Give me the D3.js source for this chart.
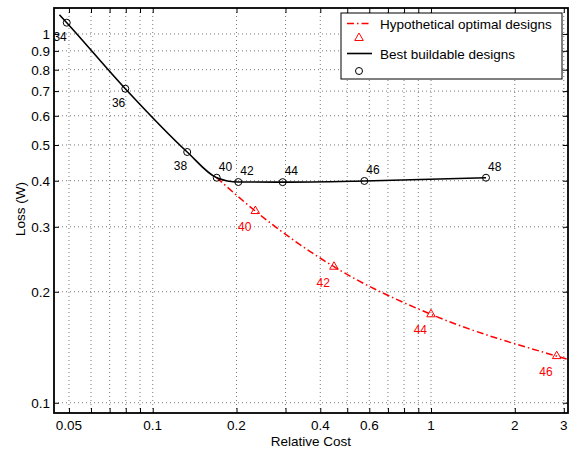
<!DOCTYPE html>
<html>
<head>
<meta charset="utf-8">
<script src="https://cdn.jsdelivr.net/npm/d3@7"></script>
<style>
  body { margin: 0; background: #fff; }
  text { font-family: "Liberation Sans", Arial, Helvetica, sans-serif; }
</style>
</head>
<body>
<script>
// datos
var bestCost   = [0.0491, 0.0797, 0.133, 0.1698, 0.203, 0.293, 0.576, 1.576];
var bestLoss   = [1.073, 0.7105, 0.4786, 0.4076, 0.3968, 0.3965, 0.3994, 0.4076];
var bestLabels = ["34", "36", "38", "40", "42", "44", "46", "48"];
// la curva negra empieza un poco antes del primer circulo
var bestLineCost = [0.0462, 0.0491, 0.0797, 0.133, 0.1698, 0.203, 0.293, 0.576, 1.576];
var bestLineLoss = [1.128, 1.073, 0.7105, 0.4786, 0.4076, 0.3968, 0.3965, 0.3994, 0.4076];

var optCost   = [0.2337, 0.448, 1.0, 2.829];
var optLoss   = [0.331, 0.2338, 0.1737, 0.1338];
var optLabels = ["40", "42", "44", "46"];
// la curva roja sale del punto 40 negro y llega al borde derecho
var optLineCost = [0.1698, 0.2337, 0.448, 1.0, 2.829, 3.106];
var optLineLoss = [0.4076, 0.331, 0.2338, 0.1737, 0.1338, 0.1311];

var xTicks = [0.05, 0.06, 0.07, 0.08, 0.09, 0.1, 0.2, 0.3, 0.4, 0.5, 0.6, 0.7, 0.8, 0.9, 1, 2, 3];
var xTickLabels = [0.05, 0.1, 0.2, 0.4, 0.6, 1, 2, 3];
var yTicks = [0.1, 0.2, 0.3, 0.4, 0.5, 0.6, 0.7, 0.8, 0.9, 1];

var w = 572, h = 449;
var pLeft = 54, pRight = 568, pTop = 8, pBottom = 413;

var svg = d3.select("body").append("svg")
    .attr("width", w)
    .attr("height", h);

var x = d3.scaleLog().domain([0.04418, 3.106]).range([pLeft, pRight]);
var y = d3.scaleLog().domain([0.0938, 1.1761]).range([pBottom, pTop]);

// rejilla punteada
svg.append("g").selectAll("line").data(xTicks).enter().append("line")
    .attr("x1", d => x(d)).attr("x2", d => x(d))
    .attr("y1", pTop).attr("y2", pBottom)
    .attr("stroke", "#555").attr("stroke-width", 0.8)
    .attr("stroke-dasharray", "1,3");
svg.append("g").selectAll("line").data(yTicks).enter().append("line")
    .attr("y1", d => y(d)).attr("y2", d => y(d))
    .attr("x1", pLeft).attr("x2", pRight)
    .attr("stroke", "#555").attr("stroke-width", 0.8)
    .attr("stroke-dasharray", "1,3");

// ejes estilo MATLAB (marcas hacia dentro, en los cuatro lados)
var tk = 5;
svg.append("g").attr("transform", "translate(0," + pBottom + ")")
    .call(d3.axisBottom(x).tickValues(xTicks).tickSizeInner(-tk).tickSizeOuter(0).tickFormat(""))
    .call(g => g.select(".domain").remove());
svg.append("g").attr("transform", "translate(0," + pTop + ")")
    .call(d3.axisTop(x).tickValues(xTicks).tickSizeInner(-tk).tickSizeOuter(0).tickFormat(""))
    .call(g => g.select(".domain").remove());
svg.append("g").attr("transform", "translate(" + pLeft + ",0)")
    .call(d3.axisLeft(y).tickValues(yTicks).tickSizeInner(-tk).tickSizeOuter(0).tickFormat(""))
    .call(g => g.select(".domain").remove());
svg.append("g").attr("transform", "translate(" + pRight + ",0)")
    .call(d3.axisRight(y).tickValues(yTicks).tickSizeInner(-tk).tickSizeOuter(0).tickFormat(""))
    .call(g => g.select(".domain").remove());
svg.selectAll(".tick line").attr("stroke", "#000").attr("stroke-width", 1);

svg.append("rect")
    .attr("x", pLeft).attr("y", pTop)
    .attr("width", pRight - pLeft).attr("height", pBottom - pTop)
    .attr("fill", "none").attr("stroke", "#000").attr("stroke-width", 1.8);

// etiquetas de las marcas
svg.append("g").selectAll("text").data(xTickLabels).enter().append("text")
    .attr("x", d => x(d)).attr("y", 430)
    .attr("text-anchor", "middle").attr("font-size", 13.5)
    .text(d => d);
svg.append("g").selectAll("text").data(yTicks).enter().append("text")
    .attr("x", 50).attr("y", d => y(d) + 5)
    .attr("text-anchor", "end").attr("font-size", 13.5)
    .text(d => d);

svg.append("text").attr("x", 311).attr("y", 446)
    .attr("text-anchor", "middle").attr("font-size", 13.5)
    .text("Relative Cost");
svg.append("text")
    .attr("transform", "translate(25,209) rotate(-90)")
    .attr("text-anchor", "middle").attr("font-size", 13.5)
    .text("Loss (W)");

var line = d3.line()
    .x(d => x(d[0]))
    .y(d => y(d[1]))
    .curve(d3.curveMonotoneX);

// curva roja
svg.append("path")
    .datum(d3.zip(optLineCost, optLineLoss))
    .attr("d", line)
    .attr("fill", "none").attr("stroke", "#f00").attr("stroke-width", 1.5)
    .attr("stroke-dasharray", "7,3,1.5,3");

// curva negra
svg.append("path")
    .datum(d3.zip(bestLineCost, bestLineLoss))
    .attr("d", line)
    .attr("fill", "none").attr("stroke", "#000").attr("stroke-width", 1.6);

var tri = d3.symbol().type(d3.symbolTriangle).size(32);

var opt = d3.zip(optCost, optLoss, optLabels);
svg.append("g").selectAll("path").data(opt).enter().append("path")
    .attr("d", tri)
    .attr("transform", d => "translate(" + x(d[0]) + "," + y(d[1]) + ")")
    .attr("fill", "none").attr("stroke", "#f00").attr("stroke-width", 1);
svg.append("g").selectAll("text").data(opt).enter().append("text")
    .attr("x", d => x(d[0]) - 4).attr("y", d => y(d[1]) + 20)
    .attr("text-anchor", "end").attr("font-size", 12).attr("fill", "#f00")
    .text(d => d[2]);

var best = d3.zip(bestCost, bestLoss, bestLabels);
svg.append("g").selectAll("circle").data(best).enter().append("circle")
    .attr("cx", d => x(d[0])).attr("cy", d => y(d[1])).attr("r", 3.5)
    .attr("fill", "none").attr("stroke", "#000").attr("stroke-width", 1);
svg.append("g").selectAll("text").data(best).enter().append("text")
    .attr("x", (d, i) => i < 3 ? x(d[0]) : x(d[0]) + 2)
    .attr("y", (d, i) => i < 3 ? y(d[1]) + 18 : y(d[1]) - 7)
    .attr("text-anchor", (d, i) => i < 3 ? "end" : "start")
    .attr("font-size", 12)
    .text(d => d[2]);

// leyenda
var lg = svg.append("g");
lg.append("rect").attr("x", 341).attr("y", 13).attr("width", 221).attr("height", 66)
    .attr("fill", "#fff").attr("stroke", "#000").attr("stroke-width", 1);
lg.append("line").attr("x1", 347).attr("x2", 371).attr("y1", 23.5).attr("y2", 23.5)
    .attr("stroke", "#f00").attr("stroke-width", 1.5).attr("stroke-dasharray", "7,3,1.5,3");
lg.append("text").attr("x", 380).attr("y", 28.5).attr("font-size", 13.5)
    .text("Hypothetical optimal designs");
lg.append("path").attr("d", tri).attr("transform", "translate(359,38)")
    .attr("fill", "none").attr("stroke", "#f00").attr("stroke-width", 1);
lg.append("line").attr("x1", 347).attr("x2", 372).attr("y1", 53.5).attr("y2", 53.5)
    .attr("stroke", "#000").attr("stroke-width", 1.6);
lg.append("text").attr("x", 380).attr("y", 58.5).attr("font-size", 13.5)
    .text("Best buildable designs");
lg.append("circle").attr("cx", 359).attr("cy", 71).attr("r", 3.5)
    .attr("fill", "none").attr("stroke", "#000").attr("stroke-width", 1);
</script>
</body>
</html>
